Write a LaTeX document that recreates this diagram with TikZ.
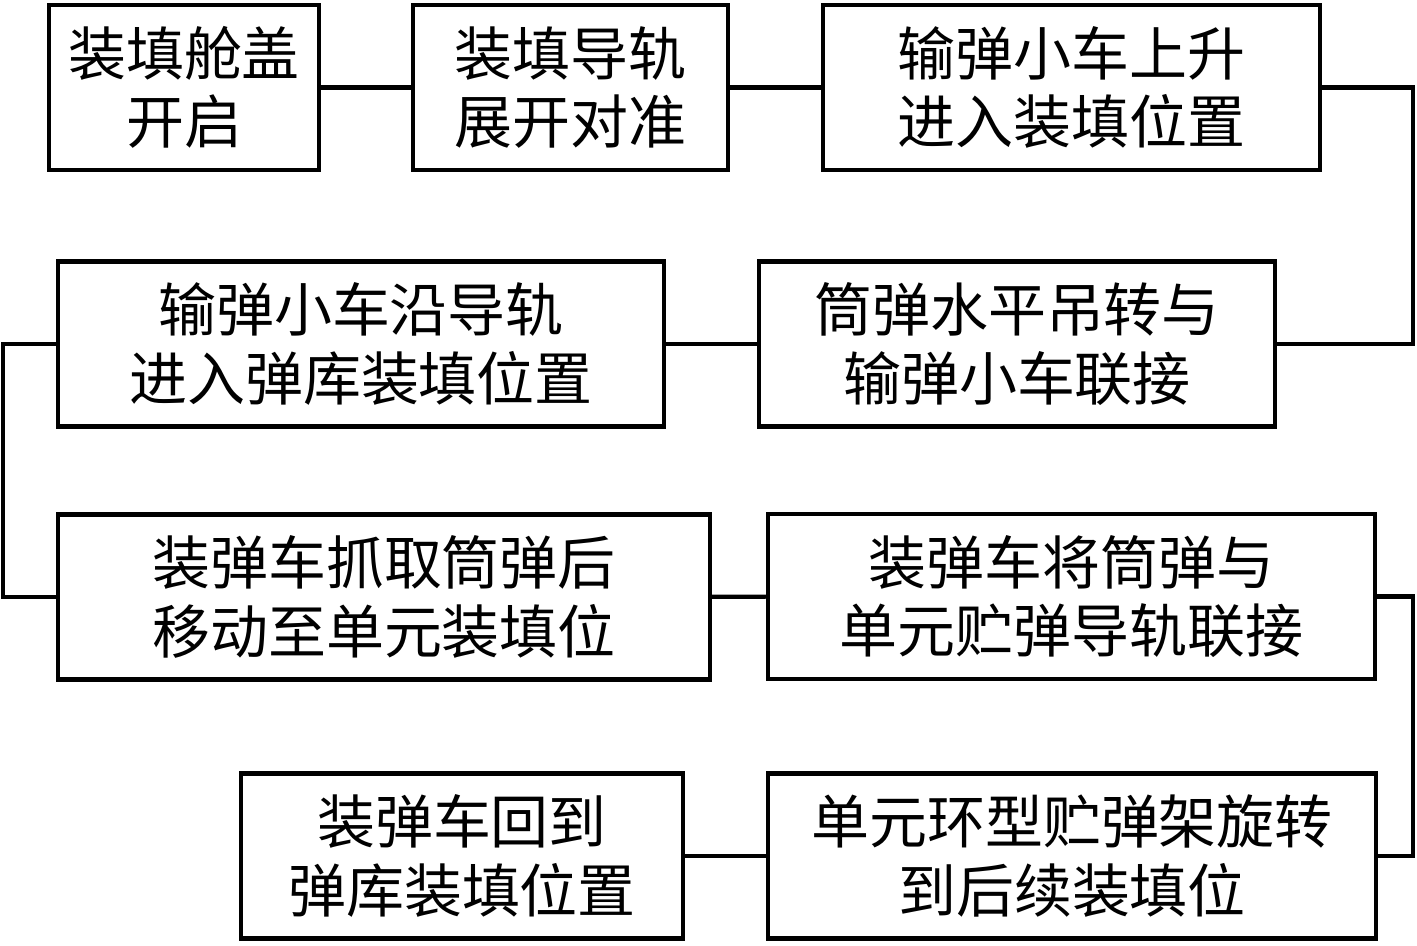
\documentclass[tikz,border=0pt]{standalone}
\usepackage{fontspec}
\newfontfamily\cjk{Noto Sans CJK SC}

\begin{document}
\begin{tikzpicture}[
    box/.style={draw, rectangle, line width=2.3pt, minimum height=3.3cm,
                align=center, font=\cjk\fontsize{33}{39}\selectfont},
    link/.style={line width=2.3pt}]
    \useasboundingbox (0,0) rectangle (28.34,-18.9);
    \node[box, minimum width=5.40cm]  (open)   at (3.68, -1.75)  {装填舱盖\\开启};
    \node[box, minimum width=6.30cm]  (rail)   at (11.41, -1.75) {装填导轨\\展开对准};
    \node[box, minimum width=9.94cm]  (lift)   at (21.43, -1.75) {输弹小车上升\\进入装填位置};
    \node[box, minimum width=10.32cm] (hoist)  at (20.34, -6.88) {筒弹水平吊转与\\输弹小车联接};
    \node[box, minimum width=12.12cm] (move)   at (7.22, -6.88)  {输弹小车沿导轨\\进入弹库装填位置};
    \node[box, minimum width=13.04cm] (grab)   at (7.68, -11.94) {装弹车抓取筒弹后\\移动至单元装填位};
    \node[box, minimum width=12.14cm] (join)   at (21.43, -11.93) {装弹车将筒弹与\\单元贮弹导轨联接};
    \node[box, minimum width=12.16cm] (rotate) at (21.44, -17.12) {单元环型贮弹架旋转\\到后续装填位};
    \node[box, minimum width=8.84cm]  (back)   at (9.24, -17.12) {装弹车回到\\弹库装填位置};
    % turning points at the sides
    \coordinate (rx) at (28.26, 0);
    \coordinate (lx) at (0.06, 0);
    \foreach \a/\b in {open/rail, rail/lift, hoist/move, grab/join, rotate/back}
        \draw[link] (\a) -- (\b);
    \draw[link] (lift.east) -- (lift.east -| rx) |- (hoist.east);
    \draw[link] (move.west) -- (move.west -| lx) |- (grab.west);
    \draw[link] (join.east) -- (join.east -| rx) |- (rotate.east);
\end{tikzpicture}
\end{document}
